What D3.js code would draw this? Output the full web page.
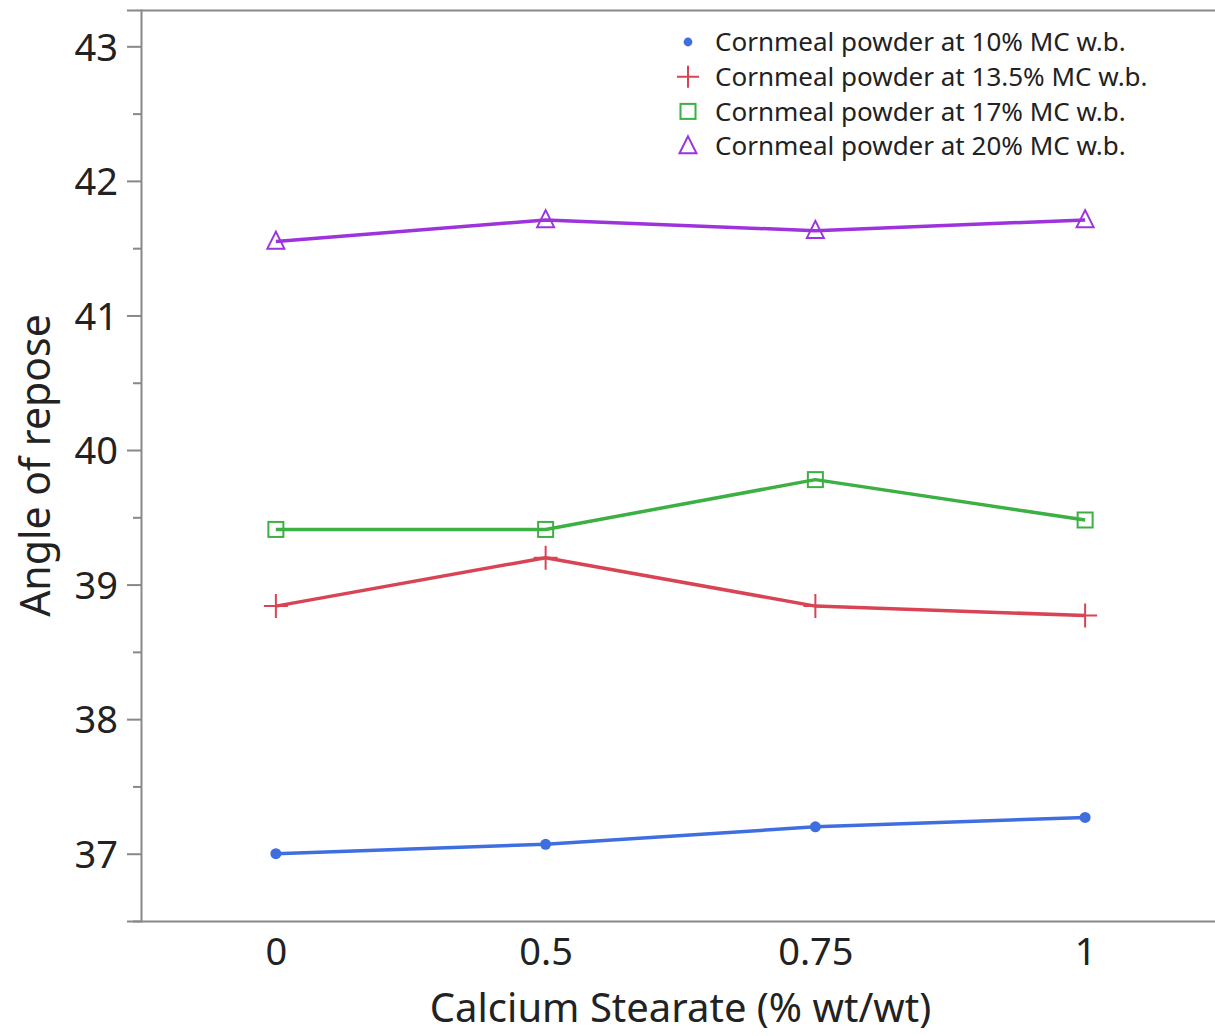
<!DOCTYPE html>
<html>
<head>
<meta charset="utf-8">
<script src="https://cdn.jsdelivr.net/npm/d3@7"></script>
<style>
  html, body { margin: 0; padding: 0; background: #fff; }
  svg { display: block; }
  text { font-family: "Noto Sans", "Open Sans", sans-serif; fill: #222; }
</style>
</head>
<body>
<svg id="chart" width="1215" height="1036"></svg>
<script>
// Calcium stearate levels (% wt/wt)
const categories = ["0", "0.5", "0.75", "1"];

// Angle of repose for each moisture content
const series10 = [37.0, 37.07, 37.2, 37.27];
const series135 = [38.84, 39.2, 38.84, 38.77];
const series17 = [39.41, 39.41, 39.78, 39.48];
const series20 = [41.55, 41.71, 41.63, 41.71];

const seriesNames = [
  "Cornmeal powder at 10% MC w.b.",
  "Cornmeal powder at 13.5% MC w.b.",
  "Cornmeal powder at 17% MC w.b.",
  "Cornmeal powder at 20% MC w.b."
];
const yTicks = [37, 38, 39, 40, 41, 42, 43];
const yMinorTicks = [36.5, 37.5, 38.5, 39.5, 40.5, 41.5, 42.5];

const colors = ["#3f6ee0", "#d94455", "#3cb043", "#9d33dc"];
const markers = ["dot", "plus", "square", "triangle"];
const allSeries = [series10, series135, series17, series20];

const svg = d3.select("#chart");
const plotLeft = 141, plotRight = 1220, plotTop = 10, plotBottom = 921;

const x = d3.scalePoint().domain(categories).range([plotLeft, plotRight]).padding(0.5);
const y = d3.scaleLinear().domain([36.5, 43.27]).range([plotBottom, plotTop]);

// top frame line
svg.append("line").attr("x1", plotLeft).attr("x2", 1215).attr("y1", plotTop + 0.5).attr("y2", plotTop + 0.5)
  .attr("stroke", "#888").attr("stroke-width", 2);

// y axis
const yAxis = svg.append("g").attr("transform", `translate(${plotLeft},0)`)
  .call(d3.axisLeft(y).tickValues(yTicks).tickSize(14).tickPadding(9).tickFormat(d3.format("d")));
yAxis.select(".domain").attr("stroke", "#888").attr("stroke-width", 2);
yAxis.selectAll(".tick line").attr("stroke", "#888").attr("stroke-width", 2);
yAxis.selectAll(".tick text").style("font-size", "38px").attr("fill", "#222").attr("dy", "0.36em");

const yMinor = svg.append("g").attr("transform", `translate(${plotLeft},0)`)
  .call(d3.axisLeft(y).tickValues(yMinorTicks).tickSize(8).tickFormat(""));
yMinor.select(".domain").remove();
yMinor.selectAll(".tick line").attr("stroke", "#888").attr("stroke-width", 2);

// x axis
const xAxis = svg.append("g").attr("transform", `translate(0,${plotBottom})`)
  .call(d3.axisBottom(x).tickSize(0).tickPadding(17));
xAxis.select(".domain").attr("stroke", "#888").attr("stroke-width", 2);
xAxis.selectAll(".tick text").style("font-size", "38px").attr("fill", "#222");

// axis titles
svg.append("text").attr("x", (plotLeft + plotRight) / 2).attr("y", 1022)
  .attr("text-anchor", "middle").style("font-size", "40px")
  .text("Calcium Stearate (% wt/wt)");
svg.append("text").attr("transform", `translate(50,${(plotTop + plotBottom) / 2}) rotate(-90)`)
  .attr("text-anchor", "middle").style("font-size", "41px")
  .text("Angle of repose");

// marker drawing
function drawMarker(g, type, color, cx, cy, scale) {
  const s = scale || 1;
  if (type === "dot") {
    g.append("circle").attr("cx", cx).attr("cy", cy).attr("r", 5.5 * s).attr("fill", color);
  } else if (type === "plus") {
    const h = 12 * s;
    g.append("path").attr("d", `M${cx - h},${cy}H${cx + h}M${cx},${cy - h}V${cy + h}`)
      .attr("stroke", color).attr("stroke-width", 2).attr("fill", "none");
  } else if (type === "square") {
    const h = 7.5 * s;
    g.append("rect").attr("x", cx - h).attr("y", cy - h).attr("width", 2 * h).attr("height", 2 * h)
      .attr("stroke", color).attr("stroke-width", 2).attr("fill", "none");
  } else if (type === "triangle") {
    const h = 8.5 * s;
    g.append("path").attr("d", `M${cx},${cy - h * 1.15}L${cx + h},${cy + h * 0.85}L${cx - h},${cy + h * 0.85}Z`)
      .attr("stroke", color).attr("stroke-width", 2).attr("fill", "none");
  }
}

const line = d3.line().x((d, i) => x(categories[i])).y(d => y(d));

allSeries.forEach((vals, si) => {
  const g = svg.append("g");
  g.append("path").datum(vals).attr("d", line)
    .attr("fill", "none").attr("stroke", colors[si]).attr("stroke-width", 3.5)
    .attr("stroke-linejoin", "round");
  vals.forEach((v, i) => drawMarker(g, markers[si], colors[si], x(categories[i]), y(v)));
});

// legend
const legend = svg.append("g");
seriesNames.forEach((name, i) => {
  const cy = 42 + i * 34.7;
  drawMarker(legend, markers[i], colors[i], 688, cy, i === 1 ? 0.92 : (i === 0 ? 0.8 : 1));
  legend.append("text").attr("x", 715).attr("y", cy).attr("dy", "0.35em")
    .style("font-size", "26px").text(name);
});
</script>
</body>
</html>
